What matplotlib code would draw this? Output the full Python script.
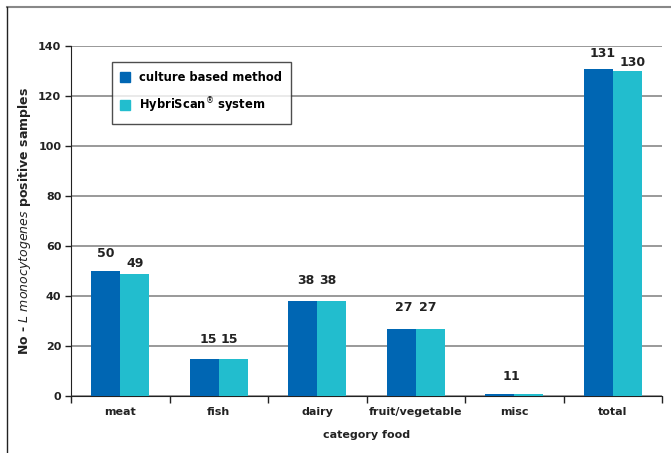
import matplotlib
matplotlib.use("Agg")
import matplotlib.pyplot as plt
from matplotlib.lines import Line2D
import numpy as np

categories = ["meat", "fish", "dairy", "fruit/vegetable", "misc", "total"]
culture_based = [50, 15, 38, 27, 1, 131]
hybriscan = [49, 15, 38, 27, 1, 130]
series_names = ["culture based method", "HybriScan$^{\\circledR}$ system"]
yticks = [0, 20, 40, 60, 80, 100, 120, 140]

# value-label nudges in pixels (dx, dy of the text centre above the bar top)
culture_label_dx = [0, 4, 3, 3, 7, 4]
culture_label_dy = [18, 19, 20, 21, 17, 15]
hybri_label_dx = [0, -3.5, -4, -3, -14, 5]
hybri_label_dy = [10, 19, 20, 21, 17, 9]

blue = "#0066B3"
cyan = "#22BDCE"
text_col = "#222222"
FS = 8

fig = plt.figure(figsize=(6.71, 4.53), dpi=100)
ax = fig.add_axes([71 / 671, 1 - 396 / 453, 591 / 671, 350 / 453])

x = np.arange(len(categories))
w = 0.295
b1 = ax.bar(x - w / 2, culture_based, w, color=blue, zorder=3)
b2 = ax.bar(x + w / 2, hybriscan, w, color=cyan, zorder=3)

px2pt = 72 / fig.dpi
for bars, vals, dxs, dys in ((b1, culture_based, culture_label_dx, culture_label_dy),
                             (b2, hybriscan, hybri_label_dx, hybri_label_dy)):
    for rect, v, dx, dy in zip(bars, vals, dxs, dys):
        ax.annotate(f"{v}", (rect.get_x() + rect.get_width() / 2, v),
                    xytext=(dx * px2pt, dy * px2pt), textcoords="offset points",
                    ha="center", va="center", fontsize=9, fontweight="bold",
                    color=text_col, zorder=4)

ax.set_xlim(-0.5, len(categories) - 0.5)
ax.set_ylim(0, 140)
ax.set_yticks(yticks)
ax.set_yticklabels([str(t) for t in yticks], fontsize=FS, fontweight="bold",
                   color=text_col)
ax.yaxis.grid(True, color="#888888", linewidth=1.2, zorder=0)
ax.set_axisbelow(True)

# category boundaries as major ticks, names as minor ticks
ax.set_xticks(np.arange(-0.5, len(categories), 1.0))
ax.set_xticklabels([])
ax.set_xticks(x, minor=True)
ax.set_xticklabels(categories, minor=True, fontsize=FS, fontweight="bold",
                   color=text_col)
ax.tick_params(axis="x", which="minor", length=0, pad=8)
ax.tick_params(axis="x", which="major", length=5, direction="out", width=1,
               color=text_col)
ax.tick_params(axis="y", length=4, direction="out", width=1, pad=3,
               color=text_col)

for s in ("top", "right"):
    ax.spines[s].set_visible(False)
ax.spines["left"].set_color(text_col)
ax.spines["bottom"].set_color(text_col)

ax.set_xlabel("category food", fontsize=FS, fontweight="bold", labelpad=9,
              color=text_col)
ax.set_ylabel("No - $\\it{L\\ monocytogenes}$ positive samples", fontsize=9,
              fontweight="bold", color=text_col)
ax.yaxis.set_label_coords(-38 / 591, 0.5)

handles = [Line2D([], [], marker="s", linestyle="none", markersize=7,
                  markerfacecolor=c, markeredgecolor=c) for c in (blue, cyan)]
leg = ax.legend(handles, series_names, loc="upper left",
                bbox_to_anchor=(41 / 591, 334 / 350), frameon=True,
                fancybox=False, edgecolor=text_col,
                prop={"weight": "bold", "size": 8.3}, handlelength=0.8,
                handletextpad=0.8, borderpad=0.75, labelspacing=1.05,
                borderaxespad=0)
leg.get_frame().set_linewidth(1.0)
leg.set_zorder(5)

# outer frame lines
fig.add_artist(Line2D([7 / 671, 1], [1 - 7 / 453] * 2, color="#888888",
                      linewidth=1.5, transform=fig.transFigure))
fig.add_artist(Line2D([7 / 671] * 2, [0, 1 - 7 / 453], color=text_col,
                      linewidth=1.0, transform=fig.transFigure))

fig.savefig("out.png", dpi=100)
